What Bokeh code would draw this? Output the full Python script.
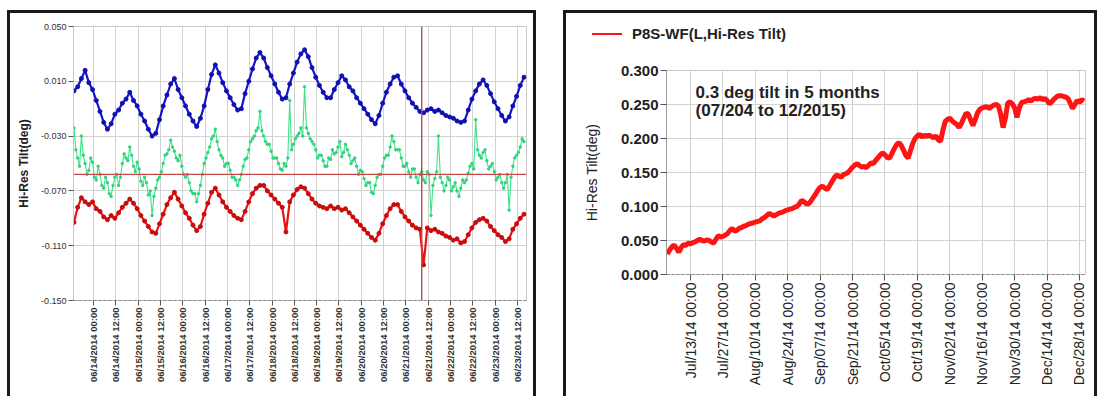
import math
from bokeh.plotting import figure
from bokeh.layouts import row, column
from bokeh.models import FixedTicker, Span, Label, Div
from bokeh.embed import file_html
from bokeh.resources import INLINE

# ---------------- Left panel data (hours relative to 06/14/2014 00:00) ----------------
left_start_hour = -10.5
left_step_hours = 2

blue_tilt = [0.003, 0.006, 0.012, 0.018, 0.009, 0.004, -0.004, -0.012, -0.020, -0.025,
             -0.021, -0.014, -0.011, -0.006, -0.003, 0.002, -0.004, -0.008, -0.014, -0.019,
             -0.025, -0.030, -0.028, -0.018, -0.008, 0.000, 0.008, 0.012, 0.004, -0.002,
             -0.008, -0.014, -0.019, -0.023, -0.017, -0.008, 0.004, 0.015, 0.022, 0.016,
             0.009, 0.003, -0.002, -0.007, -0.011, -0.010, 0.001, 0.010, 0.019, 0.027,
             0.031, 0.027, 0.020, 0.014, 0.008, 0.002, -0.003, -0.002, 0.008, 0.016,
             0.024, 0.030, 0.033, 0.028, 0.020, 0.013, 0.007, 0.002, -0.002, -0.002,
             0.004, 0.009, 0.014, 0.011, 0.006, 0.003, -0.002, -0.006, -0.010, -0.014,
             -0.018, -0.021, -0.015, -0.006, 0.002, 0.008, 0.013, 0.014, 0.008, 0.003,
             -0.002, -0.006, -0.009, -0.012, -0.013, -0.011, -0.010, -0.012, -0.011, -0.013,
             -0.015, -0.016, -0.017, -0.019, -0.020, -0.019, -0.011, -0.003, 0.003, 0.008,
             0.011, 0.007, 0.001, -0.005, -0.010, -0.015, -0.019, -0.016, -0.008, -0.001,
             0.007, 0.013]

green_tilt = [-0.024, -0.046, -0.030, -0.050, -0.055, -0.049, -0.062, -0.058, -0.068, -0.064,
              -0.074, -0.060, -0.066, -0.050, -0.046, -0.038, -0.052, -0.049, -0.063, -0.060,
              -0.073, -0.088, -0.068, -0.060, -0.050, -0.043, -0.033, -0.041, -0.048, -0.052,
              -0.060, -0.064, -0.072, -0.078, -0.066, -0.050, -0.042, -0.032, -0.025, -0.040,
              -0.046, -0.050, -0.055, -0.060, -0.066, -0.058, -0.047, -0.040, -0.032, -0.026,
              -0.012, -0.030, -0.036, -0.041, -0.046, -0.050, -0.055, -0.052, -0.004, -0.036,
              -0.030, -0.024, 0.006, -0.028, -0.034, -0.040, -0.044, -0.048, -0.052, -0.047,
              -0.043, -0.038, -0.045, -0.036, -0.044, -0.048, -0.052, -0.055, -0.061, -0.064,
              -0.071, -0.066, -0.058, -0.052, -0.044, -0.038, -0.034, -0.040, -0.046, -0.052,
              -0.056, -0.054, -0.060, -0.058, -0.062, -0.056, -0.088, -0.061, -0.030, -0.064,
              -0.066, -0.062, -0.067, -0.070, -0.068, -0.064, -0.057, -0.050, -0.018, -0.044,
              -0.042, -0.048, -0.052, -0.056, -0.060, -0.064, -0.064, -0.084, -0.052, -0.044,
              -0.038, -0.034]

# green readings taken one hour after each of the above (odd-hour samples)
green_tilt_odd = [-0.040, -0.052, -0.044, -0.058, -0.046, -0.060, -0.052, -0.066, -0.060, -0.072,
                  -0.066, -0.058, -0.060, -0.043, -0.048, -0.044, -0.056, -0.054, -0.066, -0.064,
                  -0.070, -0.074, -0.062, -0.056, -0.044, -0.040, -0.038, -0.046, -0.044, -0.058,
                  -0.058, -0.070, -0.072, -0.072, -0.058, -0.046, -0.038, -0.030, -0.034, -0.044,
                  -0.052, -0.050, -0.060, -0.062, -0.062, -0.052, -0.046, -0.034, -0.030, -0.024,
                  -0.026, -0.034, -0.036, -0.046, -0.046, -0.054, -0.050, -0.046, -0.040, -0.032,
                  -0.028, -0.030, -0.024, -0.032, -0.036, -0.046, -0.044, -0.052, -0.046, -0.040,
                  -0.042, -0.034, -0.042, -0.040, -0.050, -0.046, -0.058, -0.056, -0.066, -0.064,
                  -0.072, -0.060, -0.058, -0.046, -0.044, -0.030, -0.040, -0.040, -0.052, -0.050,
                  -0.060, -0.054, -0.064, -0.056, -0.064, -0.058, -0.066, -0.056, -0.060, -0.070,
                  -0.060, -0.070, -0.064, -0.074, -0.062, -0.062, -0.052, -0.054, -0.040, -0.046,
                  -0.040, -0.054, -0.050, -0.062, -0.058, -0.068, -0.058, -0.060, -0.046, -0.042,
                  -0.032]

red_tilt = [-0.093, -0.082, -0.075, -0.078, -0.080, -0.078, -0.083, -0.085, -0.089, -0.091,
            -0.088, -0.090, -0.086, -0.082, -0.079, -0.076, -0.079, -0.083, -0.088, -0.092,
            -0.096, -0.100, -0.101, -0.094, -0.087, -0.080, -0.075, -0.071, -0.076, -0.081,
            -0.086, -0.090, -0.095, -0.099, -0.096, -0.087, -0.079, -0.071, -0.068, -0.073,
            -0.078, -0.082, -0.085, -0.088, -0.090, -0.091, -0.085, -0.078, -0.072, -0.068,
            -0.066, -0.066, -0.070, -0.073, -0.076, -0.079, -0.082, -0.100, -0.078, -0.073,
            -0.069, -0.067, -0.068, -0.072, -0.076, -0.079, -0.081, -0.082, -0.083, -0.081,
            -0.083, -0.082, -0.084, -0.083, -0.086, -0.089, -0.092, -0.095, -0.098, -0.101,
            -0.104, -0.106, -0.101, -0.094, -0.088, -0.083, -0.080, -0.080, -0.085, -0.089,
            -0.092, -0.095, -0.097, -0.098, -0.124, -0.097, -0.099, -0.098, -0.100, -0.101,
            -0.103, -0.104, -0.106, -0.105, -0.108, -0.107, -0.102, -0.097, -0.093, -0.091,
            -0.090, -0.092, -0.096, -0.099, -0.102, -0.104, -0.107, -0.105, -0.098, -0.094,
            -0.090, -0.087]

left_tick_hours = [0, 12, 24, 36, 48, 60, 72, 84, 96, 108, 120, 132, 144, 156, 168, 180, 192, 204, 216, 228]
left_tick_labels = ["06/14/2014 00:00", "06/14/2014 12:00", "06/15/2014 00:00", "06/15/2014 12:00",
                    "06/16/2014 00:00", "06/16/2014 12:00", "06/17/2014 00:00", "06/17/2014 12:00",
                    "06/18/2014 00:00", "06/18/2014 12:00", "06/19/2014 00:00", "06/19/2014 12:00",
                    "06/20/2014 00:00", "06/20/2014 12:00", "06/21/2014 00:00", "06/21/2014 12:00",
                    "06/22/2014 00:00", "06/22/2014 12:00", "06/23/2014 00:00", "06/23/2014 12:00"]
left_y_ticks = [0.050, 0.010, -0.030, -0.070, -0.110, -0.150]
left_y_labels = ["0.050", "0.010", "-0.030", "-0.070", "-0.110", "-0.150"]
left_hline_value = -0.058
left_vline_hour = 176.5

# ---------------- Right panel data (days relative to Jul/13/14 00:00) ----------------
right_start_day = -10
right_tilt = [0.030, 0.036, 0.041, 0.043, 0.038, 0.033, 0.040, 0.044, 0.043, 0.046,
              0.045, 0.047, 0.048, 0.050, 0.052, 0.050, 0.049, 0.051, 0.050, 0.048,
              0.046, 0.052, 0.057, 0.055, 0.056, 0.058, 0.060, 0.065, 0.068, 0.064,
              0.065, 0.068, 0.069, 0.071, 0.072, 0.074, 0.075, 0.076, 0.077, 0.078,
              0.079, 0.082, 0.084, 0.087, 0.090, 0.088, 0.086, 0.088, 0.090, 0.091,
              0.092, 0.094, 0.095, 0.096, 0.097, 0.099, 0.100, 0.104, 0.109, 0.107,
              0.104, 0.104, 0.108, 0.113, 0.118, 0.124, 0.128, 0.130, 0.127, 0.125,
              0.130, 0.136, 0.142, 0.146, 0.145, 0.143, 0.147, 0.148, 0.150, 0.154,
              0.158, 0.161, 0.163, 0.160, 0.158, 0.159, 0.157, 0.161, 0.164, 0.163,
              0.168, 0.172, 0.176, 0.179, 0.176, 0.172, 0.171, 0.178, 0.185, 0.191,
              0.194, 0.190, 0.183, 0.175, 0.171, 0.182, 0.193, 0.200, 0.204, 0.206,
              0.202, 0.205, 0.203, 0.205, 0.203, 0.201, 0.204, 0.198, 0.196, 0.212,
              0.225, 0.228, 0.230, 0.226, 0.223, 0.221, 0.216, 0.222, 0.230, 0.237,
              0.236, 0.227, 0.219, 0.228, 0.238, 0.243, 0.245, 0.246, 0.247, 0.244,
              0.247, 0.249, 0.250, 0.248, 0.235, 0.216, 0.230, 0.252, 0.254, 0.251,
              0.245, 0.231, 0.245, 0.253, 0.254, 0.255, 0.257, 0.255, 0.258, 0.259,
              0.258, 0.260, 0.257, 0.259, 0.256, 0.251, 0.254, 0.258, 0.261, 0.263,
              0.263, 0.262, 0.261, 0.259, 0.252, 0.244, 0.250, 0.256, 0.253, 0.257,
              0.255]
right_tick_days = [0, 14, 28, 42, 56, 70, 84, 98, 112, 126, 140, 154, 168]
right_tick_labels = ["Jul/13/14 00:00", "Jul/27/14 00:00", "Aug/10/14 00:00", "Aug/24/14 00:00",
                     "Sep/07/14 00:00", "Sep/21/14 00:00", "Oct/05/14 00:00", "Oct/19/14 00:00",
                     "Nov/02/14 00:00", "Nov/16/14 00:00", "Nov/30/14 00:00", "Dec/14/14 00:00",
                     "Dec/28/14 00:00"]
right_y_ticks = [0.000, 0.050, 0.100, 0.150, 0.200, 0.250, 0.300]
right_y_labels = ["0.000", "0.050", "0.100", "0.150", "0.200", "0.250", "0.300"]
legend_text = "P8S-WF(L,Hi-Res Tilt)"
note_lines = ["0.3 deg tilt in 5 months", "(07/204 to 12/2015)"]
y_title = "Hi-Res Tilt(deg)"

FONT = "Liberation Sans"
EDGE = "3px solid #1a1a1a"

# ---------------- Left figure ----------------
lx = [left_start_hour + left_step_hours * i for i in range(len(blue_tilt))]
p1 = figure(width=529, height=386, x_range=(-10.75, 232.84), y_range=(-0.150, 0.050),
            output_backend="svg", toolbar_location=None,
            min_border_left=63, min_border_right=13, min_border_top=13, min_border_bottom=99)
p1.frame_align = False
p1.margin = (10, 0, 0, 7)
p1.styles = {"border-top": EDGE, "border-left": EDGE, "border-right": EDGE}
p1.outline_line_color = "#c8c8c8"
p1.background_fill_color = "white"
p1.border_fill_color = "white"

p1.line(lx, blue_tilt, line_color="#1414c8", line_width=2.2)
p1.scatter(lx, blue_tilt, marker="circle", size=4, color="#1010b0")

g_pts = []
for i, v in enumerate(green_tilt):
    g_pts.append((left_start_hour + left_step_hours * i, v))
    if i < len(green_tilt_odd):
        g_pts.append((left_start_hour + left_step_hours * i + 1, green_tilt_odd[i]))
gx = [t for t, _ in g_pts]
gy = [v for _, v in g_pts]
p1.line(gx, gy, line_color="#3de38a", line_width=1.1)
p1.scatter(gx, gy, marker="circle", size=2.5, color="#30d47c")

rx = [left_start_hour + left_step_hours * i for i in range(len(red_tilt))]
p1.line(rx, red_tilt, line_color="#e81414", line_width=2.2)
p1.scatter(rx, red_tilt, marker="circle", size=4, color="#c80c0c")

p1.add_layout(Span(location=left_hline_value, dimension="width", line_color="#c84646", line_width=1.2))
p1.add_layout(Span(location=left_vline_hour, dimension="height", line_color="#b84a4a", line_width=1.4))

p1.xaxis.ticker = FixedTicker(ticks=left_tick_hours)
p1.xaxis.major_label_overrides = dict(zip(left_tick_hours, left_tick_labels))
p1.xaxis.major_label_orientation = math.pi / 2
p1.xaxis.major_label_text_font = FONT
p1.xaxis.major_label_text_font_size = "9.5px"
p1.xaxis.major_label_text_font_style = "bold"
p1.xaxis.major_label_text_color = "#333333"
p1.xaxis.axis_line_color = "#888888"
p1.xaxis.axis_line_dash = "3 2"

p1.yaxis.ticker = FixedTicker(ticks=left_y_ticks)
p1.yaxis.major_label_overrides = dict(zip(left_y_ticks, left_y_labels))
p1.yaxis.major_label_text_font = FONT
p1.yaxis.major_label_text_font_size = "9px"
p1.yaxis.major_label_text_color = "#333333"
p1.yaxis.axis_line_color = "#c8c8c8"
p1.yaxis.axis_label = y_title
p1.yaxis.axis_label_text_font = FONT
p1.yaxis.axis_label_text_font_size = "12px"
p1.yaxis.axis_label_text_font_style = "bold"
p1.yaxis.axis_label_text_color = "#222222"
p1.yaxis.axis_label_standoff = 7
for ax in (p1.xaxis, p1.yaxis):
    ax.major_tick_in = 0
    ax.major_tick_out = 5
    ax.major_tick_line_color = "#555555"
    ax.minor_tick_line_color = None
    ax.major_label_standoff = 2
p1.grid.grid_line_color = "#d2d2d2"

# ---------------- Right panel: legend strip + figure ----------------
legend_html = (
    "<div style=\"padding:13px 0 0 26px;display:flex;align-items:center;"
    "font-family:'Liberation Sans',Arial,sans-serif;font-weight:bold;font-size:15px;"
    "line-height:16px;color:#222222;white-space:nowrap\">"
    "<span style=\"display:inline-block;width:30px;height:2px;background:#ff1414;"
    "margin-right:10px\"></span>" + legend_text + "</div>"
)
legend_div = Div(text=legend_html, width=534, height=40,
                 styles={"border-top": EDGE, "border-left": EDGE, "border-right": EDGE,
                         "background": "white"})
legend_div.margin = (0, 0, 0, 0)

rdx = [right_start_day + i for i in range(len(right_tilt))]
p2 = figure(width=534, height=346, x_range=(-10.37, 170.6), y_range=(0.0, 0.300),
            output_backend="svg", toolbar_location=None,
            min_border_left=100, min_border_right=15, min_border_top=20, min_border_bottom=122)
p2.frame_align = False
p2.margin = (0, 0, 0, 0)
p2.styles = {"border-left": EDGE, "border-right": EDGE}
p2.outline_line_color = "#c8c8c8"
p2.background_fill_color = "white"
p2.border_fill_color = "white"

p2.line(rdx, right_tilt, line_color="#ff1414", line_width=5)

p2.xaxis.ticker = FixedTicker(ticks=right_tick_days)
p2.xaxis.major_label_overrides = dict(zip(right_tick_days, right_tick_labels))
p2.xaxis.major_label_orientation = math.pi / 2
p2.xaxis.major_label_text_font = FONT
p2.xaxis.major_label_text_font_size = "14px"
p2.xaxis.major_label_text_color = "#222222"
p2.xaxis.axis_line_color = "#888888"
p2.xaxis.axis_line_dash = "3 2"

p2.yaxis.ticker = FixedTicker(ticks=right_y_ticks)
p2.yaxis.major_label_overrides = dict(zip(right_y_ticks, right_y_labels))
p2.yaxis.major_label_text_font = FONT
p2.yaxis.major_label_text_font_size = "15px"
p2.yaxis.major_label_text_font_style = "bold"
p2.yaxis.major_label_text_color = "#222222"
p2.yaxis.axis_line_color = "#999999"
p2.yaxis.axis_label = y_title
p2.yaxis.axis_label_text_font = FONT
p2.yaxis.axis_label_text_font_size = "14px"
p2.yaxis.axis_label_text_font_style = "normal"
p2.yaxis.axis_label_text_color = "#222222"
p2.yaxis.axis_label_standoff = 18
for ax in (p2.xaxis, p2.yaxis):
    ax.major_tick_in = 0
    ax.major_tick_out = 6
    ax.major_tick_line_color = "#555555"
    ax.minor_tick_line_color = None
    ax.major_label_standoff = 2
p2.grid.grid_line_color = "#d2d2d2"

p2.add_layout(Label(x=2.2, y=0.2676, text=note_lines[0], text_font=FONT, text_font_size="17px",
                    text_font_style="bold", text_color="#222222", text_baseline="middle"))
p2.add_layout(Label(x=2.2, y=0.2412, text=note_lines[1], text_font=FONT, text_font_size="17px",
                    text_font_style="bold", text_color="#222222", text_baseline="middle"))

right_col = column(legend_div, p2)
right_col.margin = (10, 0, 0, 27)
right_col.spacing = 0

layout = row(p1, right_col)
open("out.html", "w").write(file_html(layout, INLINE))
